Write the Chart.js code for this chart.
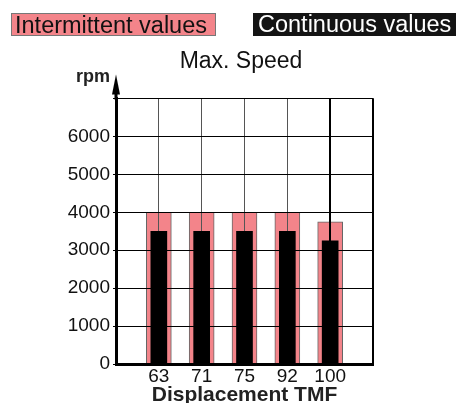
<!DOCTYPE html>
<html lang="en">
<head>
    <meta charset="UTF-8">
    <meta name="viewport" content="width=device-width, initial-scale=1.0">
    <title>Max. Speed</title>
    <style>
        body {
            margin: 0;
            background: #fff;
            font-family: 'Liberation Sans', Arial, sans-serif;
        }
        .wrap {
            position: relative;
            width: 456px;
            height: 403px;
        }
        .wrap canvas {
            position: absolute;
            left: 0;
            top: 0;
        }
        .key {
            position: absolute;
            top: 13px;
            height: 23px;
            line-height: 23px;
            font-size: 23.5px;
            padding: 0 3px;
            box-sizing: border-box;
            white-space: nowrap;
        }
        .key.intermittent {
            left: 11px;
            width: 205px;
            background: #f3848a;
            border: 1px solid #777;
            color: #111;
        }
        .key.continuous {
            left: 253px;
            width: 203px;
            background: #141414;
            color: #fff;
            padding-left: 5px;
        }
    </style>
</head>
<body>
    <div class="wrap">
        <canvas id="chart" width="456" height="403"></canvas>
        <div class="key intermittent">Intermittent values</div>
        <div class="key continuous">Continuous values</div>
    </div>

    <script src="https://cdn.jsdelivr.net/npm/chart.js"></script>
    <script>
        const categories = ['63', '71', '75', '92', '100'];
        const intermittent = [4000, 4000, 4000, 4000, 3750];
        const continuous = [3500, 3500, 3500, 3500, 3250];
        const yMax = 7000;
        const yStep = 1000;

        const FONT = "'Liberation Sans', Arial, sans-serif";
        const PINK = '#f3848a';

        // empty slots on both ends so the gridlines land on the bar centres
        const labels = ['', ...categories, ''];
        const pad = arr => [null, ...arr, null];

        // pink bars sit under the grid, black bars on top of it
        const gridOverPink = {
            id: 'gridOverPink',
            afterDatasetDraw(chart, args) {
                if (args.index !== 0) return;
                const area = chart.chartArea;
                chart.scales.x.drawGrid(area);
                chart.scales.y.drawGrid(area);
                chart.scales.x.drawBorder();
                chart.scales.y.drawBorder();
            }
        };

        // arrow on the y axis and the unit label
        const axisArrow = {
            id: 'axisArrow',
            afterDraw(chart) {
                const ctx = chart.ctx;
                const x = chart.chartArea.left;
                const top = chart.chartArea.top;
                ctx.save();
                ctx.fillStyle = '#000';
                ctx.fillRect(x - 1.5, top - 6, 3, 7);
                ctx.beginPath();
                ctx.moveTo(x, top - 24);
                ctx.lineTo(x - 4, top - 4);
                ctx.lineTo(x + 4, top - 4);
                ctx.closePath();
                ctx.fill();
                ctx.font = 'bold 18px ' + FONT;
                ctx.textAlign = 'right';
                ctx.textBaseline = 'alphabetic';
                ctx.fillStyle = '#222';
                ctx.fillText('rpm', x - 6, top - 17);
                ctx.restore();
            }
        };

        // the last category line and the right edge are drawn heavier
        const heavy = i => i >= labels.length - 2;

        new Chart(document.getElementById('chart'), {
            type: 'bar',
            data: {
                labels: labels,
                datasets: [{
                    label: 'Intermittent values',
                    data: pad(intermittent),
                    backgroundColor: PINK,
                    borderColor: '#666',
                    borderWidth: 1,
                    borderSkipped: 'bottom',
                    barThickness: 25,
                    grouped: false,
                    order: 2
                }, {
                    label: 'Continuous values',
                    data: pad(continuous),
                    backgroundColor: '#000',
                    borderWidth: 0,
                    barThickness: 16,
                    grouped: false,
                    order: 1
                }]
            },
            options: {
                responsive: false,
                animation: false,
                layout: {
                    padding: { left: 26, right: 0, top: 48, bottom: 0 }
                },
                plugins: {
                    legend: { display: false },
                    tooltip: { enabled: false },
                    title: {
                        display: true,
                        text: 'Max. Speed',
                        color: '#111',
                        font: { family: FONT, size: 23, weight: 'normal' },
                        padding: { top: 0, bottom: 23 }
                    }
                },
                scales: {
                    x: {
                        offset: false,
                        grid: {
                            offset: false,
                            color: c => heavy(c.index) ? '#000' : '#555',
                            lineWidth: c => heavy(c.index) ? 2 : 1,
                            drawTicks: false
                        },
                        border: { color: '#000', width: 3 },
                        ticks: {
                            autoSkip: false,
                            maxRotation: 0,
                            padding: 1,
                            color: '#111',
                            font: { family: FONT, size: 19 }
                        },
                        title: {
                            display: true,
                            text: 'Displacement TMF',
                            color: '#222',
                            padding: { top: 0, bottom: 0 },
                            font: { family: FONT, size: 21, weight: 'bold', lineHeight: 0.7 }
                        },
                        afterFit(scale) { scale.height = 39; }
                    },
                    y: {
                        min: 0,
                        max: yMax,
                        grid: { color: '#000', tickLength: 3 },
                        border: { color: '#000', width: 3 },
                        ticks: {
                            stepSize: yStep,
                            padding: 3,
                            color: '#111',
                            font: { family: FONT, size: 19 },
                            callback: v => v === yMax ? '' : v
                        },
                        afterFit(scale) { scale.width = 90; }
                    },
                    // empty strip on the right, keeps the plot narrower than the title row
                    spacer: {
                        type: 'linear',
                        position: 'right',
                        grid: { display: false },
                        border: { display: false },
                        ticks: { display: false },
                        afterFit(scale) { scale.width = 83; }
                    }
                }
            },
            plugins: [gridOverPink, axisArrow]
        });
    </script>
</body>
</html>
